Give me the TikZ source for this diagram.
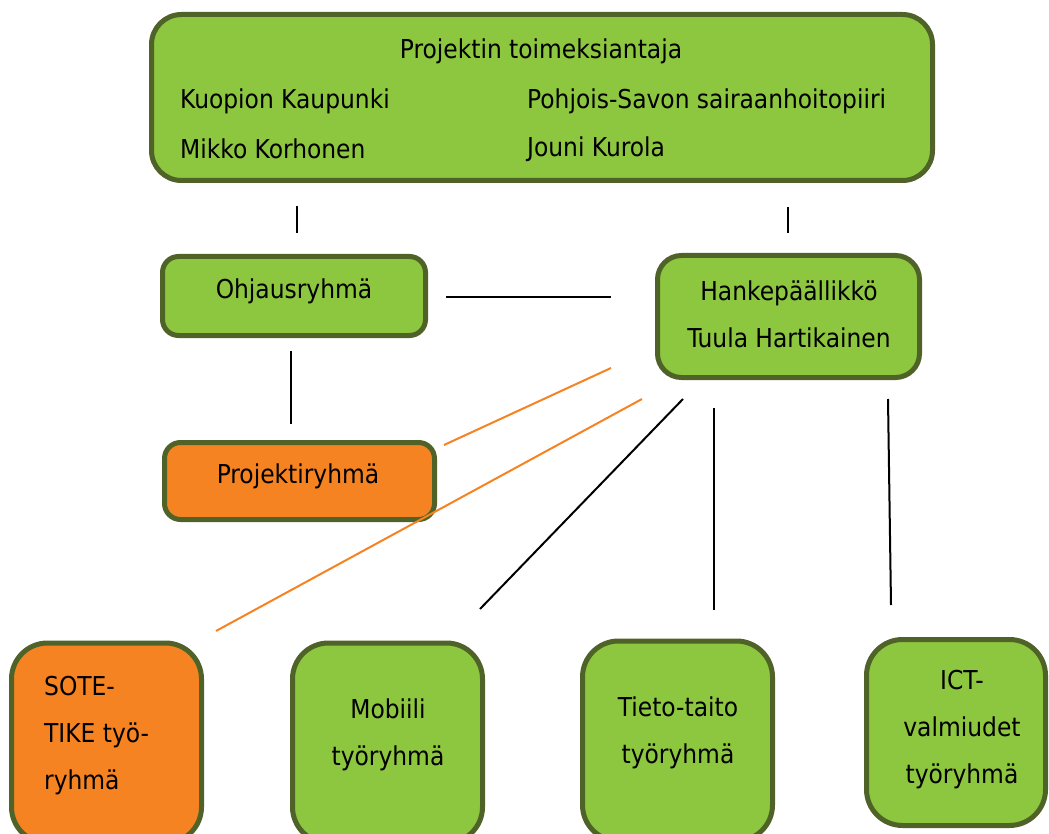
\documentclass[tikz,border=0pt]{standalone}
\usepackage{fontspec}
\setmainfont{DejaVu Sans Condensed}
\definecolor{boxgreen}{HTML}{8DC63F}
\definecolor{boxorange}{HTML}{F58322}
\definecolor{edge}{HTML}{4F6228}
\tikzset{
  box/.style={draw=edge, line width=5pt, rounded corners=#1, inner sep=0pt},
  gbox/.style={box=#1, fill=boxgreen},
  obox/.style={box=#1, fill=boxorange},
  txt/.style={inner sep=0pt, align=center, font=\fontsize{26}{47}\selectfont},
  link/.style={draw=black, line width=2pt},
  olink/.style={draw=boxorange, line width=2pt},
}
\begin{document}
\begin{tikzpicture}[x=1pt,y=-1pt]
\useasboundingbox (0,0) rectangle (1049,834);
\clip (0,0) rectangle (1049,834);
% boxes
\node[gbox=30pt, minimum width=781pt, minimum height=166pt] (top) at (542,97.5) {};
\node[gbox=16pt, minimum width=263pt, minimum height=79pt] (ohj) at (294,296) {};
\node[gbox=24pt, minimum width=262pt, minimum height=122pt] (hanke) at (788.5,316.5) {};
\node[obox=16pt, minimum width=270pt, minimum height=77pt] (proj) at (299.5,481) {};
\node[obox=36pt, minimum width=190pt, minimum height=200pt] (sote) at (106.5,743) {};
\node[gbox=36pt, minimum width=190pt, minimum height=200pt] (mob) at (387.5,743) {};
\node[gbox=36pt, minimum width=190pt, minimum height=200pt] (tieto) at (677.5,741) {};
\node[gbox=36pt, minimum width=179pt, minimum height=186pt] (ict) at (956,732.5) {};
% texts
\node[txt] (t0) at (541,51) {Projektin toimeksiantaja};
\node[txt, anchor=west] (t1) at (180,101) {Kuopion Kaupunki};
\node[txt, anchor=west] (t2) at (527,101) {Pohjois-Savon sairaanhoitopiiri};
\node[txt, anchor=west] (t3) at (180,149) {Mikko Korhonen};
\node[txt, anchor=west] (t4) at (527,149) {Jouni Kurola};
\node[txt] (ohjt) at (294,291) {Ohjausryhmä};
\node[txt] (hanket) at (789,314.5) {Hankepäällikkö\\Tuula Hartikainen};
\node[txt] (projt) at (298,476) {Projektiryhmä};
\node[txt, align=left, anchor=west] (sotet) at (44,736) {SOTE-\\TIKE työ-\\ryhmä};
\node[txt] (mobt) at (388,734.5) {Mobiili\\työryhmä};
\node[txt] (tietot) at (678,732.5) {Tieto-taito\\työryhmä};
\node[txt] (ictt) at (962,730) {ICT-\\valmiudet\\työryhmä};
% connector end points
\coordinate (a1) at (297,206); \coordinate (a2) at (297,233);
\coordinate (b1) at (788,207); \coordinate (b2) at (788,233);
\coordinate (c1) at (446,297); \coordinate (c2) at (611,297);
\coordinate (d1) at (291,351); \coordinate (d2) at (291,424);
\coordinate (e1) at (444,445); \coordinate (e2) at (611,368);
\coordinate (f1) at (216,631); \coordinate (f2) at (642,399);
\coordinate (g1) at (480,609); \coordinate (g2) at (683,399);
\coordinate (h1) at (714,408); \coordinate (h2) at (714,610);
\coordinate (i1) at (888,399); \coordinate (i2) at (891,605);
\draw[link] (a1) -- (a2);
\draw[link] (b1) -- (b2);
\draw[link] (c1) -- (c2);
\draw[link] (d1) -- (d2);
\draw[olink] (e1) -- (e2);
\draw[olink] (f1) -- (f2);
\draw[link] (g1) -- (g2);
\draw[link] (h1) -- (h2);
\draw[link] (i1) -- (i2);
\end{tikzpicture}
\end{document}
